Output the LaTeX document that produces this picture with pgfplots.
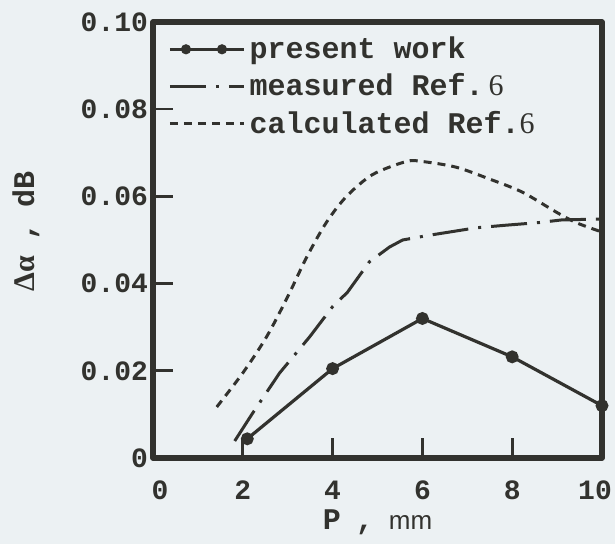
\documentclass[border=0pt]{standalone}
\usepackage{pgfplots}
\pgfplotsset{compat=1.18}
\usepackage{fontspec}
\setmainfont{Liberation Serif}
\setmonofont{Liberation Mono}
\setsansfont{Liberation Sans}
\definecolor{ink}{RGB}{50,50,46}
\definecolor{paper}{RGB}{236,241,243}
\begin{document}
\begin{tikzpicture}
\path[use as bounding box, fill=paper] (-76.5pt,-43pt) rectangle (231pt,229pt);
\begin{axis}[
  at={(0,0)}, anchor=south west,
  scale only axis, width=224.5pt, height=218pt,
  xmin=0, xmax=10, ymin=0, ymax=0.10,
  clip=false,
  axis line style={ink, line width=2.6pt, line join=round},
  tick style={ink, line width=1.3pt},
  major tick length=10pt,
  tick align=inside,
  tick pos=left,
  xtick={0,2,4,6,8,10},
  xticklabels={\hspace*{7pt}0,2,4,6,8,10\hspace*{7pt}},
  ytick={0,0.02,0.04,0.06,0.08,0.10},
  yticklabels={0\hspace{10pt},0.02,0.04,0.06,0.08,0.10},
  scaled y ticks=false,
  /pgf/number format/assume math mode=true,
  ticklabel style={font=\ttfamily\bfseries\fontsize{14}{15}\selectfont, text=ink},
  xticklabel style={yshift=-8pt},
  yticklabel style={xshift=1pt},
  xlabel={\ttfamily\bfseries P\enspace,\enspace{\sffamily\mdseries\fontsize{13}{14}\selectfont mm}},
  xlabel style={font=\fontsize{15}{16}\selectfont, text=ink, at={(axis description cs:0.5,0)}, anchor=center, yshift=-32pt},
  ylabel={{\rmfamily\bfseries Δα}\enspace{\ttfamily\bfseries,}\enspace{\ttfamily\bfseries dB}},
  ylabel style={font=\fontsize{15}{16}\selectfont, text=ink, at={(axis description cs:-0.283,0.52)}, anchor=center},
  legend style={at={(axis description cs:0.02,0.985)}, anchor=north west,
    draw=none, fill=none, text=ink,
    font=\ttfamily\bfseries\fontsize{15}{16}\selectfont,
    row sep=2pt, cells={anchor=west}},
  legend cell align=left,
  legend image code/.code={\draw[#1] (0pt,0pt) -- (37pt,0pt);},
]
\addplot[ink, line width=1.6pt, mark=*, mark size=2.4pt,
  legend image code/.code={\draw[ink, line width=1.6pt] (0pt,0pt) -- (37pt,0pt);
    \fill[ink] (8pt,0pt) circle (1.7pt) (26pt,0pt) circle (1.7pt);}]
  coordinates {(2.1,0.0044) (4,0.0205) (6,0.0320) (8,0.0232) (10,0.0120)};
\addlegendentry{present work}
\addplot[ink, line width=1.5pt, dash pattern=on 18pt off 5pt on 1.5pt off 5pt]
  coordinates {(1.82,0.0039) (2.22,0.0103) (2.82,0.0195) (3.49,0.0278) (4.0,0.0347)
    (4.33,0.0380) (4.82,0.0450) (5.27,0.0484) (5.56,0.0500) (6.16,0.0511)
    (7.2,0.0528) (7.87,0.0534) (8.6,0.0540) (9.1,0.0546) (9.95,0.0548)};
\addlegendentry{measured Ref.\,{\rmfamily\mdseries 6}}
\addplot[ink, line width=1.5pt, dash pattern=on 4pt off 3pt, smooth, tension=0.5]
  coordinates {(1.42,0.0117) (2.0,0.0195) (2.53,0.0278) (3.0,0.0370) (3.42,0.0460)
    (3.86,0.0540) (4.31,0.0600) (4.89,0.0650) (5.64,0.0680) (6.0,0.0680)
    (6.75,0.0667) (7.49,0.0640) (8.22,0.0610) (8.98,0.0564) (9.42,0.0540) (9.95,0.0520)};
\addlegendentry{calculated Ref.{\rmfamily\mdseries 6}}
\end{axis}
\end{tikzpicture}
\end{document}
